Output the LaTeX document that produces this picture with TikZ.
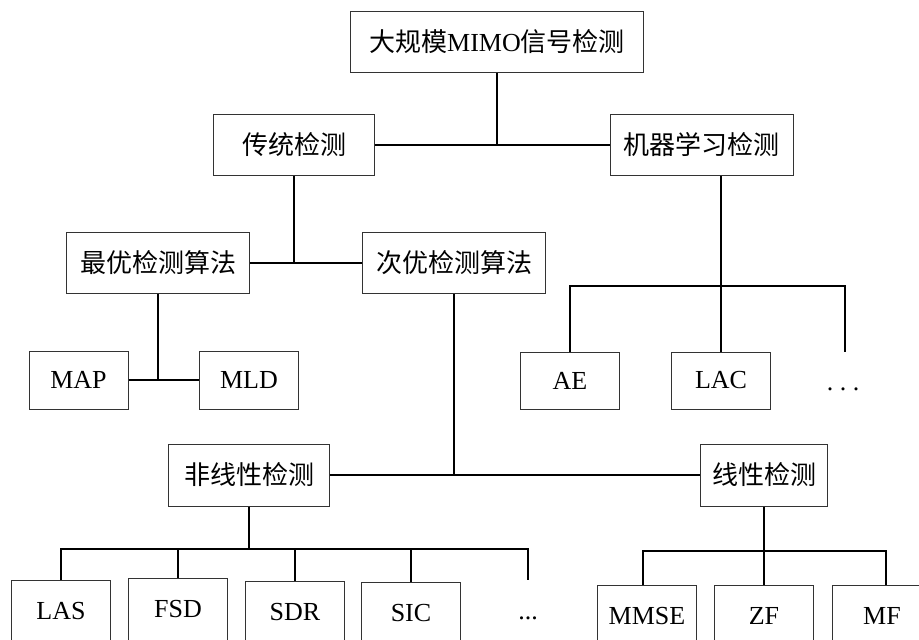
\documentclass[tikz,border=0pt]{standalone}
\usepackage{fontspec}
\setmainfont{Liberation Serif}
\newfontfamily\cjk{Noto Sans CJK SC}
\begin{document}
\begin{tikzpicture}[x=1pt,y=-1pt,
  box/.style={draw=black!80, line width=1pt, fill=white, inner sep=0pt,
    font=\fontsize{26}{30}\selectfont},
  conn/.style={line width=2pt, black},
  txt/.style={inner sep=0pt, font=\fontsize{26}{30}\selectfont}]
\useasboundingbox (0,0) rectangle (919,640);
\clip (0,0) rectangle (919,640);
\fill[white] (0,0) rectangle (919,640);
% nodes
\node[box, minimum width=293pt, minimum height=61pt] (top) at (497,41.5) {{\cjk 大规模}MIMO{\cjk 信号检测}};
\node[box, minimum width=161pt, minimum height=61pt] (trad) at (294,145) {\cjk 传统检测};
\node[box, minimum width=183pt, minimum height=61pt] (ml) at (701.5,145) {\cjk 机器学习检测};
\node[box, minimum width=183pt, minimum height=61pt] (opt) at (158,263) {\cjk 最优检测算法};
\node[box, minimum width=183pt, minimum height=61pt] (sub) at (454,263) {\cjk 次优检测算法};
\node[box, minimum width=99pt, minimum height=58pt] (map) at (78.5,380) {MAP};
\node[box, minimum width=99pt, minimum height=58pt] (mld) at (249,380) {MLD};
\node[box, minimum width=99pt, minimum height=57pt] (ae) at (570,380.5) {AE};
\node[box, minimum width=99pt, minimum height=57pt] (lac) at (721,380.5) {LAC};
\node[txt, anchor=base] (dotsA) at (843,390) {.\ .\ .};
\coordinate (dotsAtop) at (845,352);
\node[box, minimum width=161pt, minimum height=62pt] (nonlin) at (249,475) {\cjk 非线性检测};
\node[box, minimum width=127pt, minimum height=62pt] (lin) at (764,475) {\cjk 线性检测};
\node[box, minimum width=99pt, minimum height=62pt] (las) at (61,611) {LAS};
\node[box, minimum width=99pt, minimum height=62pt] (fsd) at (178,609) {FSD};
\node[box, minimum width=99pt, minimum height=62pt] (sdr) at (295,612) {SDR};
\node[box, minimum width=99pt, minimum height=62pt] (sic) at (411,613) {SIC};
\node[txt, anchor=base] (dotsB) at (528,619) {...};
\coordinate (dotsBtop) at (528,580);
\node[box, minimum width=99pt, minimum height=62pt] (mmse) at (647,616) {MMSE};
\node[box, minimum width=99pt, minimum height=62pt] (zf) at (764,616) {ZF};
\node[box, minimum width=99pt, minimum height=62pt] (mf) at (882,616) {MF};
% bus coordinates
\coordinate (busML) at (0,286);
\coordinate (busNL) at (0,549);
\coordinate (busL) at (0,551);
% connectors
\draw[conn] (top.south) -- (top.south |- trad.east);
\draw[conn] (trad.east) -- (ml.west);
\draw[conn] (trad.south) -- (trad.south |- opt.east);
\draw[conn] (opt.east) -- (sub.west);
\draw[conn] (opt.south) -- (opt.south |- map.east);
\draw[conn] (map.east) -- (mld.west);
% machine learning branch
\draw[conn] (lac.north |- ml.south) -- (lac.north);
\draw[conn] (ae.north) -- (ae.north |- busML) -- (dotsAtop |- busML) -- (dotsAtop);
% suboptimal branch
\draw[conn] (sub.south) -- (sub.south |- nonlin.east);
\draw[conn] (nonlin.east) -- (lin.west);
% nonlinear
\draw[conn] (nonlin.south) -- (nonlin.south |- busNL);
\draw[conn] (las.north) -- (las.north |- busNL) -- (dotsBtop |- busNL) -- (dotsBtop);
\draw[conn] (fsd.north) -- (fsd.north |- busNL);
\draw[conn] (sdr.north) -- (sdr.north |- busNL);
\draw[conn] (sic.north) -- (sic.north |- busNL);
% linear
\draw[conn] (lin.south) -- (lin.south |- busL);
\draw[conn] ([xshift=-4pt]mmse.north) -- ([xshift=-4pt]mmse.north |- busL) -- ([xshift=4pt]mf.north |- busL) -- ([xshift=4pt]mf.north);
\draw[conn] (zf.north) -- (zf.north |- busL);
\end{tikzpicture}
\end{document}
